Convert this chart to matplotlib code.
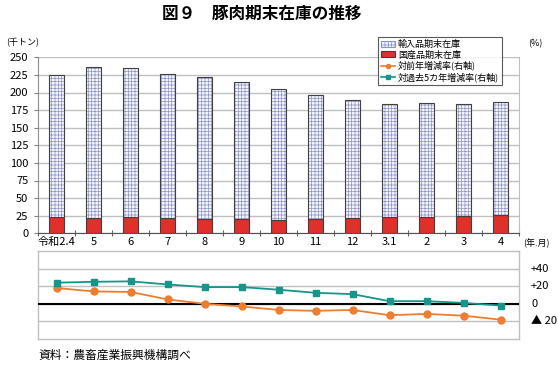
import matplotlib
matplotlib.use("Agg")
import matplotlib.pyplot as plt
from matplotlib.patches import Patch
from matplotlib.lines import Line2D
import numpy as np

plt.rcParams['font.family'] = ['Noto Sans CJK JP', 'DejaVu Sans']
plt.rcParams['hatch.linewidth'] = 0.5

categories = ['令和2.4', '5', '6', '7', '8', '9', '10', '11', '12', '3.1', '2', '3', '4']
domestic = [23.5, 21.5, 23, 21.5, 20.5, 20.5, 19, 20, 21.5, 22.5, 23, 25, 26]
total = [225, 236.5, 235.5, 226.5, 221.5, 214.5, 205.5, 196, 190, 183.5, 185, 183, 186]
imported = [t - d for t, d in zip(total, domestic)]
yoy = [18, 14, 13.5, 5, 0, -3, -7, -8, -7, -13, -11.5, -13.5, -18]
vs5yr = [24, 25, 25.5, 22, 19, 19, 16, 12.5, 11, 3, 3, 1, -2]

right_ticks = [40, 20, 0, -20]
right_labels = ['+40', '+20', '0', '▲ 20']

fig = plt.figure(figsize=(5.58, 3.67), dpi=100)
W, H = 558, 367
L, R = 38, 519
ax = fig.add_axes([L / W, 1 - 233.3 / H, (R - L) / W, (233.3 - 57.3) / H])
ax2 = fig.add_axes([L / W, 1 - 339 / H, (R - L) / W, (339 - 251) / H])

x = np.arange(len(categories))
bw = 0.41
grid_c = '#c0c0c0'
red = '#e0302a'
hatch_c = '#8e93c6'
edge_c = '#404040'

ax.bar(x, domestic, bw, color=red, edgecolor=edge_c, linewidth=0.8, zorder=3)
ax.bar(x, imported, bw, bottom=domestic, color='#f4f4fb', edgecolor=hatch_c,
       hatch='+++++', linewidth=0, zorder=3)
ax.bar(x, imported, bw, bottom=domestic, fill=False, edgecolor=edge_c,
       linewidth=0.8, zorder=4)

ax.set_xlim(-0.5, len(categories) - 0.5)
ax.set_ylim(0, 250)
ax.set_yticks(np.arange(0, 251, 25))
ax.yaxis.grid(True, color=grid_c, linewidth=1)
ax.set_axisbelow(True)
ax.set_xticks(np.arange(-0.5, len(categories), 1))
ax.set_xticklabels([])
ax.set_xticks(x, minor=True)
ax.set_xticklabels(categories, minor=True, fontsize=8)
ax.tick_params(axis='x', which='minor', length=0, pad=3)
ax.tick_params(axis='x', which='major', direction='inout', length=5, color='#606060')
ax.tick_params(axis='y', length=3, direction='out', color='#808080', labelsize=8, pad=4)
ax.spines['top'].set_visible(False)
ax.spines['left'].set_color('#909090')
ax.spines['right'].set_color(grid_c)
ax.spines['bottom'].set_color('#505050')

ax2.plot(x, yoy, color='#ed7d31', marker='o', markersize=5, linewidth=1.3, zorder=4)
ax2.plot(x, vs5yr, color='#14968a', marker='s', markersize=5, linewidth=1.3, zorder=4)
ax2.axhline(0, color='black', linewidth=1.5, zorder=3)
ax2.set_xlim(-0.5, len(categories) - 0.5)
ax2.set_ylim(-40, 60)
ax2.set_yticks([-20, 0, 20, 40])
ax2.yaxis.grid(True, color=grid_c, linewidth=1)
ax2.set_axisbelow(True)
ax2.set_yticklabels([])
ax2.tick_params(axis='y', length=0)
ax2.set_xticks([])
for s in ['top', 'bottom', 'left', 'right']:
    ax2.spines[s].set_color(grid_c)
    ax2.spines[s].set_linewidth(1)

for v, lab in zip(right_ticks, right_labels):
    ax2.text(1.025, (v + 40) / 100, lab, transform=ax2.transAxes, fontsize=8,
             va='center', ha='left')

fig.text(262 / W, 1 - 14 / H, '図９　豚肉期末在庫の推移', ha='center', va='center',
         fontsize=12, fontweight='bold')
fig.text(6 / W, 1 - 43 / H, '(千トン)', ha='left', va='center', fontsize=6.5)
fig.text(528 / W, 1 - 44 / H, '(%)', ha='left', va='center', fontsize=6.5)
fig.text(523 / W, 1 - 243 / H, '(年.月)', ha='left', va='center', fontsize=6.5)
fig.text(38 / W, 1 - 355 / H, '資料：農畜産業振興機構調べ', ha='left', va='center', fontsize=8.5)

handles = [
    Patch(facecolor='#f4f4fb', edgecolor=hatch_c, hatch='+++++', linewidth=0.8),
    Patch(facecolor=red, edgecolor=edge_c, linewidth=0.8),
    Line2D([0], [0], color='#ed7d31', marker='o', markersize=3, linewidth=1.2),
    Line2D([0], [0], color='#14968a', marker='s', markersize=3, linewidth=1.2),
]
labels = ['輸入品期末在庫', '国産品期末在庫', '対前年増減率(右軸)', '対過去5カ年増減率(右軸)']
leg = fig.legend(handles, labels, loc='upper left', bbox_to_anchor=(378 / W, 1 - 37 / H),
                 fontsize=6.5, frameon=True, fancybox=False, handlelength=1.6,
                 handleheight=0.6, handletextpad=0.3, borderpad=0.3, labelspacing=0.15,
                 borderaxespad=0)
leg.get_frame().set_edgecolor('#303030')
leg.get_frame().set_linewidth(0.8)

fig.savefig('out.png', dpi=100)
